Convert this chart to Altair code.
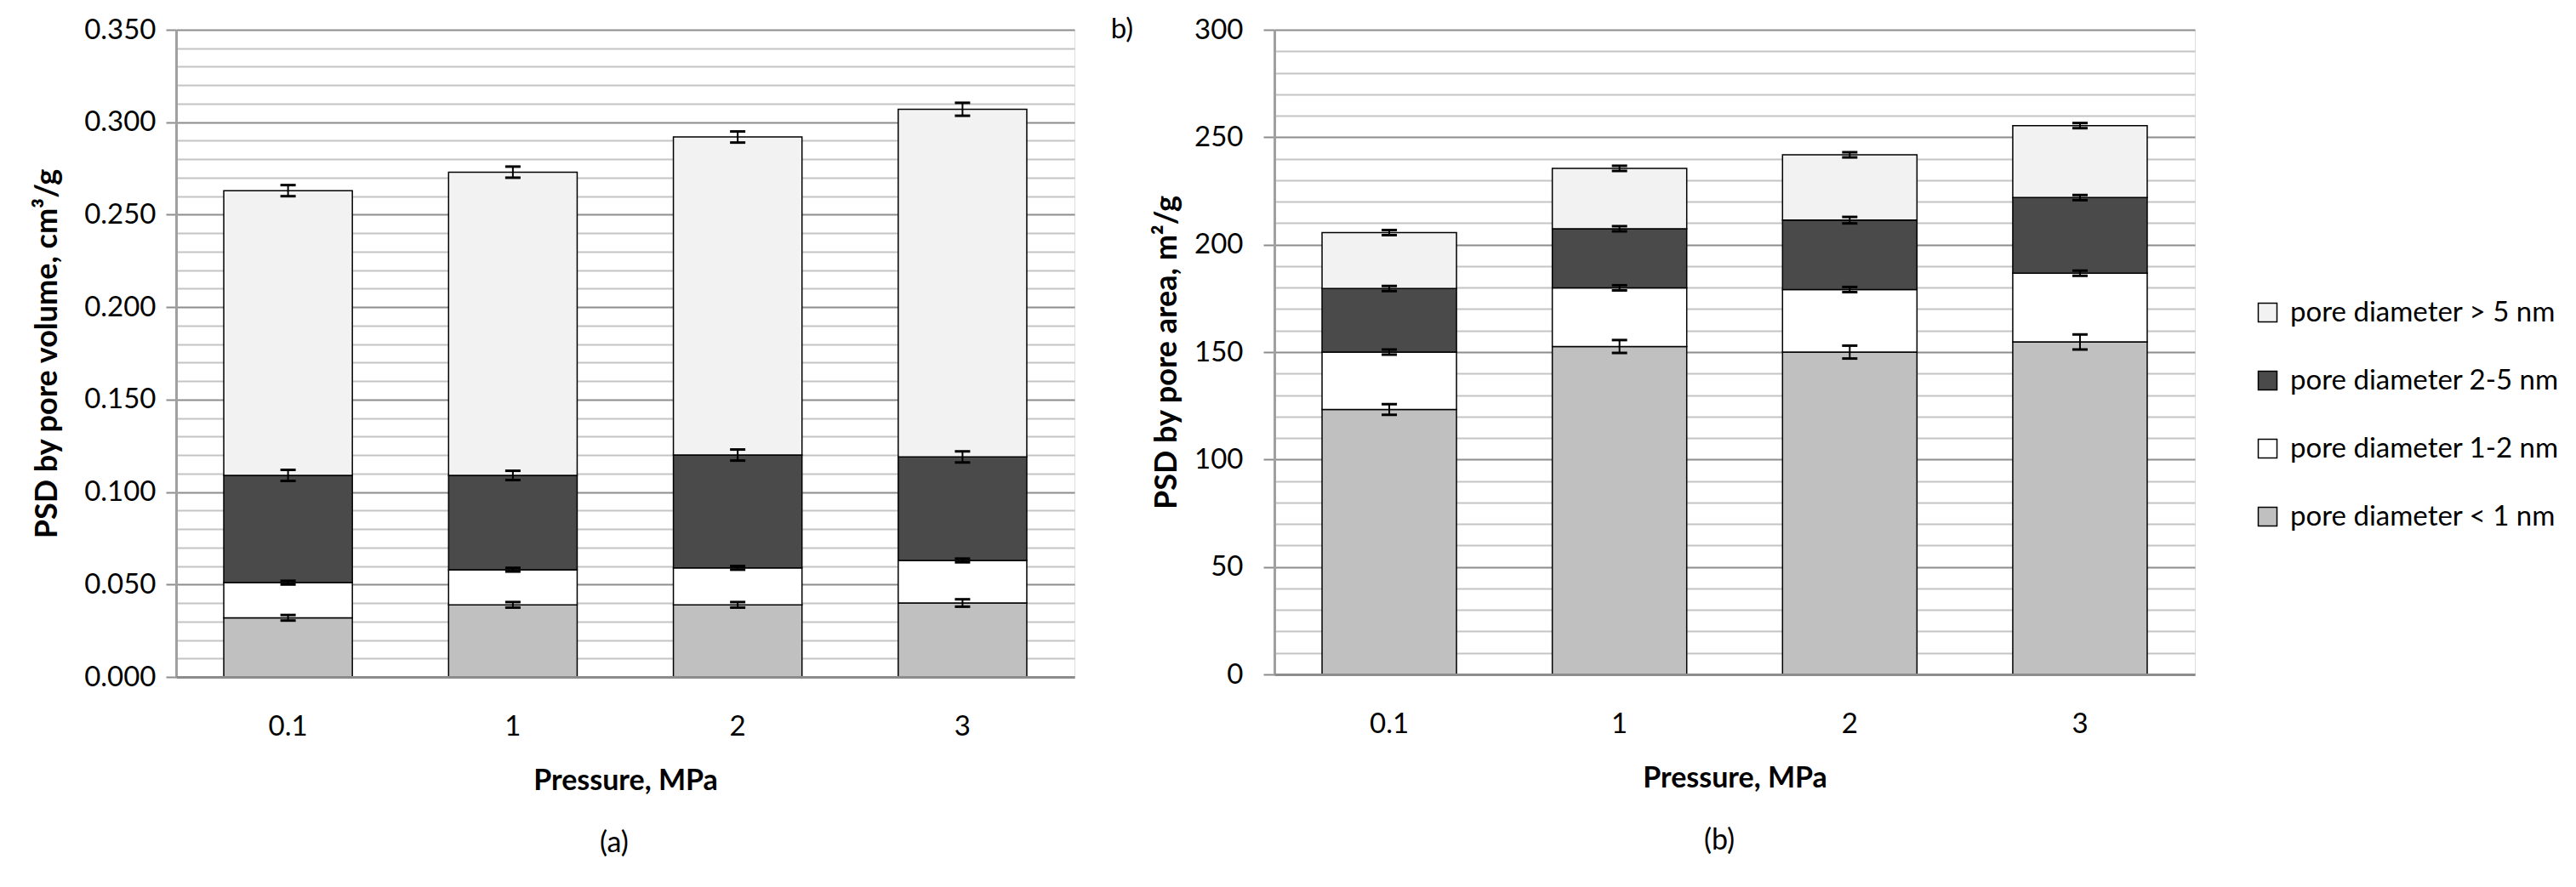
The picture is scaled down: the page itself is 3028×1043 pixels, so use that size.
import altair as alt
import pandas as pd

pressures = ["0.1", "1", "2", "3"]
# legend order (top to bottom)
categories = ["pore diameter > 5 nm", "pore diameter 2-5 nm",
              "pore diameter 1-2 nm", "pore diameter < 1 nm"]
cat_colors = ["#f2f2f2", "#4a4a4a", "#ffffff", "#c0c0c0"]

# (a) PSD by pore volume, cm3/g  -- segment heights, bottom to top
vol_lt1 = [0.032, 0.039, 0.039, 0.040]
vol_12 = [0.019, 0.019, 0.020, 0.023]
vol_25 = [0.058, 0.051, 0.061, 0.056]
vol_gt5 = [0.154, 0.164, 0.172, 0.188]
vol_err_lt1 = [0.0015, 0.0015, 0.0015, 0.002]
vol_err_12 = [0.001, 0.001, 0.001, 0.001]
vol_err_25 = [0.003, 0.0025, 0.003, 0.003]
vol_err_gt5 = [0.003, 0.003, 0.003, 0.0035]

# (b) PSD by pore area, m2/g
area_lt1 = [123.3, 152.6, 150.0, 154.7]
area_12 = [26.7, 27.3, 29.1, 32.0]
area_25 = [29.6, 27.5, 32.3, 35.2]
area_gt5 = [26.0, 28.1, 30.4, 33.5]
area_err_lt1 = [2.5, 3.0, 3.0, 3.5]
area_err_12 = [1.2, 1.2, 1.2, 1.2]
area_err_25 = [1.2, 1.2, 1.5, 1.2]
area_err_gt5 = [1.2, 1.2, 1.2, 1.2]

FONT = "Lato"
stack_order = categories[::-1]  # bottom to top


def build(segs, errs):
    rows = []
    for i, p in enumerate(pressures):
        base = 0.0
        for cat, vals, ers in zip(stack_order, segs, errs):
            top = base + vals[i]
            rows.append(dict(p=p, cat=cat, y0=base, y1=top,
                             lo=top - ers[i], hi=top + ers[i]))
            base = top
    return pd.DataFrame(rows)


def panel(df, ymax, major_step, minor_step, fmt, ytitle, w, h, pi, po,
          title_x, label_pad, tick_size, caption, cap_dx, extra_label=None,
          extra_dx=0):
    nmaj = int(round(ymax / major_step))
    nmin = int(round(ymax / minor_step))
    ratio = int(round(major_step / minor_step))
    major = [round(i * major_step, 6) for i in range(nmaj + 1)]
    minor = [round(i * minor_step, 6) for i in range(nmin + 1) if i % ratio != 0]
    yscale = alt.Scale(domain=[0, ymax], nice=False)
    xenc = alt.X("p:N", sort=pressures,
                 scale=alt.Scale(paddingInner=pi, paddingOuter=po),
                 axis=alt.Axis(title="Pressure, MPa", labelAngle=0, ticks=False,
                               tickSize=0, domainColor="#8c8c8c", domainWidth=3,
                               labelFontSize=33, labelFont=FONT, labelColor="black",
                               labelBaseline="middle", labelPadding=58,
                               titleFontSize=34, titleFont=FONT,
                               titleFontWeight="bold", titleColor="black",
                               titleY=122, titleBaseline="middle", zindex=1))
    bars = alt.Chart(df).mark_bar(stroke="black", strokeWidth=1.5, opacity=1).encode(
        x=xenc,
        y=alt.Y("y1:Q", scale=yscale,
                axis=alt.Axis(values=major, format=fmt, grid=True,
                              gridColor="#8c8c8c", gridWidth=2,
                              domainColor="#a0a0a0", domainWidth=3,
                              tickColor="#8c8c8c", tickWidth=2, tickSize=tick_size,
                              labelFontSize=33, labelFont=FONT, labelColor="black",
                              labelPadding=label_pad,
                              title=ytitle, titleFontSize=36, titleFont=FONT,
                              titleFontWeight="bold", titleColor="black",
                              titleX=title_x, titleY=h / 2, titleBaseline="middle",
                              titleAngle=270)),
        y2="y0:Q",
        color=alt.Color("cat:N", scale=alt.Scale(domain=categories, range=cat_colors),
                        legend=alt.Legend(title=None, orient="none",
                                          legendX=2442, legendY=316,
                                          symbolType="square", symbolSize=484,
                                          symbolStrokeColor="black",
                                          symbolStrokeWidth=1.5, symbolOpacity=1,
                                          labelFontSize=33, labelFont=FONT,
                                          labelColor="black", labelOffset=10,
                                          labelLimit=0,
                                          rowPadding=46, padding=0)),
    )
    rules = alt.Chart(df).mark_rule(color="black", strokeWidth=2).encode(
        x=xenc,
        y=alt.Y("lo:Q", scale=yscale,
                axis=alt.Axis(orient="right", values=minor, grid=True,
                              gridColor="#c4c4c4", gridWidth=2, labels=False,
                              ticks=False, domain=False, title=None)),
        y2="hi:Q",
    )
    caps = alt.Chart(df).transform_fold(["lo", "hi"], as_=["k", "v"]).mark_tick(
        color="black", size=18, thickness=3, opacity=1).encode(
        x=xenc,
        y=alt.Y("v:Q", scale=yscale, axis=None),
    )
    layers = [bars, rules, caps]
    if extra_label:
        lab = alt.Chart(pd.DataFrame({"t": [extra_label]})).mark_text(
            fontSize=33, font=FONT, color="black", align="center",
            baseline="middle").encode(text="t:N", x=alt.value(extra_dx),
                                      y=alt.value(0))
        layers.append(lab)
    return alt.layer(*layers).resolve_axis(y="independent").properties(
        width=w, height=h,
        title=alt.TitleParams(caption, orient="bottom", offset=40, fontSize=34,
                              font=FONT, fontWeight="normal", color="black",
                              dx=cap_dx))


vol_df = build([vol_lt1, vol_12, vol_25, vol_gt5],
               [vol_err_lt1, vol_err_12, vol_err_25, vol_err_gt5])
area_df = build([area_lt1, area_12, area_25, area_gt5],
                [area_err_lt1, area_err_12, area_err_25, area_err_gt5])

left = panel(vol_df, 0.35, 0.05, 0.01, ".3f", "PSD by pore volume, cm³/g",
             1056, 761, 0.428, 0.212, -152, 12, 12, "(a)", -13)
right = panel(area_df, 300, 50, 10, "d", "PSD by pore area, m²/g",
              1082, 758, 0.416, 0.207, -127, 24, 13, "(b)", -18,
              extra_label="b)", extra_dx=-179)

chart = alt.hconcat(left, right, spacing=235, bounds="flush").properties(
    padding={"left": 28, "top": 10, "right": 0, "bottom": 0}
).configure_view(stroke=None).configure(font=FONT)

chart.save("out.html", embed_options={"renderer": "svg", "actions": False})
